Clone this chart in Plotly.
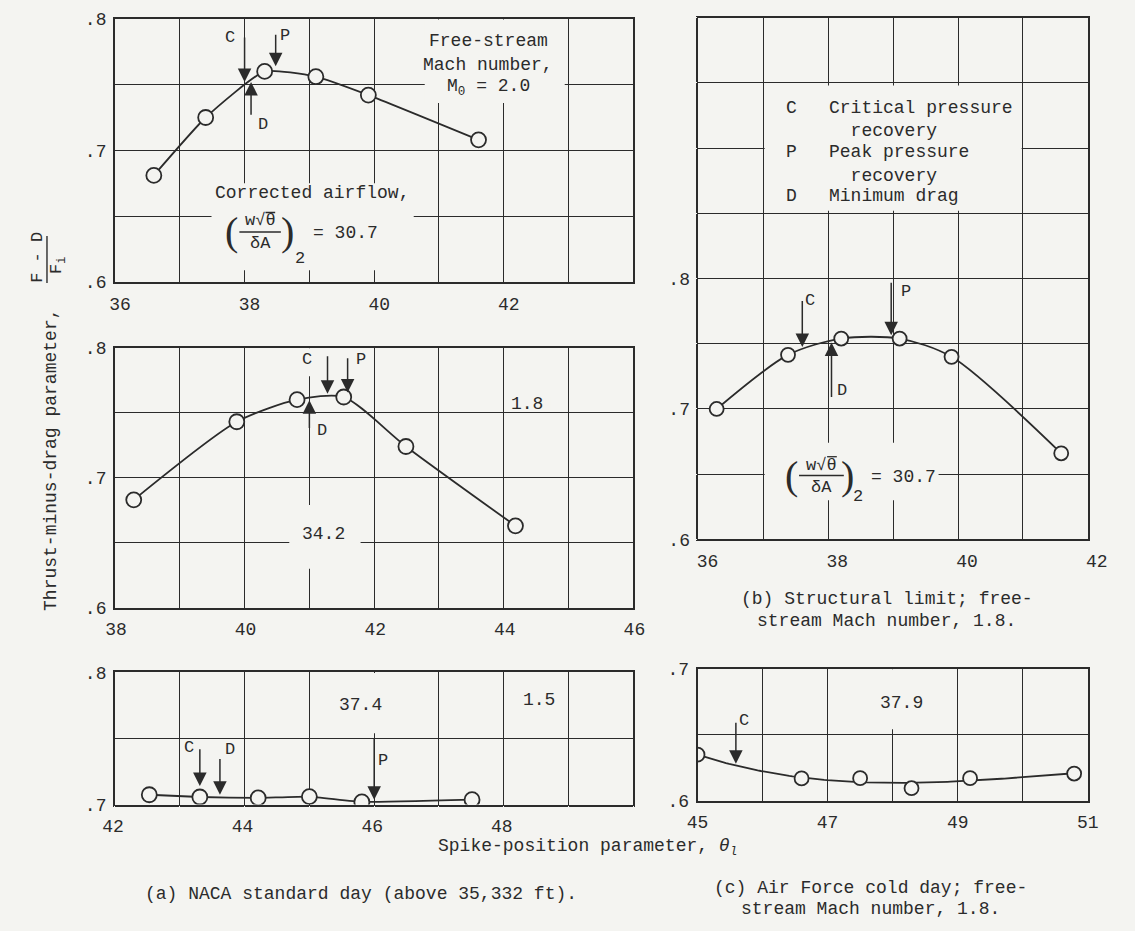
import numpy as np
import plotly.graph_objects as go

# ---------------- data ----------------
a1_x = [36.60, 37.40, 38.31, 39.10, 39.91, 41.61]
a1_y = [0.681, 0.725, 0.760, 0.756, 0.742, 0.708]
a2_x = [38.29, 39.88, 40.81, 41.53, 42.49, 44.18]
a2_y = [0.683, 0.743, 0.760, 0.762, 0.724, 0.663]
a3_x = [42.53, 43.31, 44.21, 45.00, 45.81, 47.51]
a3_y = [0.7074, 0.7057, 0.7050, 0.7060, 0.7020, 0.7037]
b_x = [36.28, 37.38, 38.20, 39.10, 39.90, 41.59]
b_y = [0.700, 0.7415, 0.754, 0.754, 0.740, 0.666]
c_x = [45.00, 46.60, 47.50, 48.29, 49.19, 50.79]
c_y = [0.6348, 0.6168, 0.6170, 0.6094, 0.6170, 0.6205]

# C / P / D markers: (label, x, y_tail, y_head, label_x, label_y)
a1_marks = [("C", 38.00, 0.787, 0.752, 37.77, 0.786),
            ("P", 38.48, 0.789, 0.764, 38.62, 0.787),
            ("D", 38.10, 0.726, 0.752, 38.28, 0.720)]
a2_marks = [("C", 41.28, 0.7945, 0.7645, 40.96, 0.791),
            ("P", 41.59, 0.793, 0.7655, 41.80, 0.791),
            ("D", 41.00, 0.737, 0.7595, 41.20, 0.736)]
a3_marks = [("C", 43.31, 0.743, 0.714, 43.14, 0.743),
            ("D", 43.62, 0.7356, 0.7074, 43.78, 0.742),
            ("P", 46.00, 0.751, 0.7037, 46.14, 0.733)]
b_marks = [("C", 37.60, 0.784, 0.7475, 37.72, 0.783),
           ("P", 38.97, 0.798, 0.7565, 39.20, 0.790),
           ("D", 38.05, 0.708, 0.751, 38.21, 0.714)]
c_marks = [("C", 45.59, 0.660, 0.628, 45.72, 0.6607)]

W, H = 1135, 931
BG = "#f4f4f1"
INK = "#2b2b2b"
FONT = "Courier New, Liberation Mono, monospace"
FS = 18


def px(x):
    return x / W


def py(y):
    return 1 - y / H


panels = [
    dict(x=a1_x, y=a1_y, xr=[36, 44], yr=[0.6, 0.8], box=[105, 639, 10, 279],
         xlab={36: "36", 38: "38", 40: "40", 42: "42"}, ylab={0.6: ".6", 0.7: ".7", 0.8: ".8"},
         marks=a1_marks, msize=15, fair=None, smooth=0.5, shift=5),
    dict(x=a2_x, y=a2_y, xr=[38, 46], yr=[0.6, 0.8], box=[105, 639, 346, 612],
         xlab={38: "38", 40: "40", 42: "42", 44: "44", 46: "46"}, ylab={0.6: ".6", 0.7: ".7", 0.8: ".8"},
         marks=a2_marks, msize=15, fair=None, smooth=0.7, shift=1),
    dict(x=a3_x, y=a3_y, xr=[42, 50], yr=[0.7, 0.8], box=[105, 639, 678, 813],
         xlab={42: "42", 44: "44", 46: "46", 48: "48"}, ylab={0.7: ".7", 0.8: ".8"},
         marks=a3_marks, msize=15, fair=None, smooth=0.3, shift=-2),
    dict(x=b_x, y=b_y, xr=[36, 42], yr=[0.6, 1.0], box=[706, 1107, 9, 542],
         xlab={36: "36", 38: "38", 40: "40", 42: "42"}, ylab={0.6: ".6", 0.7: ".7", 0.8: ".8"},
         marks=b_marks, msize=14, fair=None, smooth=0.8, shift=9),
    dict(x=c_x, y=c_y, xr=[45, 51], yr=[0.6, 0.7], box=[705, 1107, 674, 809],
         xlab={45: "45", 47: "47", 49: "49", 51: "51"}, ylab={0.6: ".6", 0.7: ".7"},
         marks=c_marks, msize=14, fair=3, smooth=0.8, shift=0),
]

fig = go.Figure()
layout = dict(
    width=W, height=H, margin=dict(l=0, r=0, t=0, b=0, pad=0),
    paper_bgcolor=BG, plot_bgcolor=BG, showlegend=False,
    font=dict(family=FONT, size=FS, color=INK),
)
annotations = []
shapes = []

for i, p in enumerate(panels):
    n = "" if i == 0 else str(i + 1)
    xa, ya = "x" + n, "y" + n
    x0, x1, yt, yb = p["box"]
    xt = list(range(p["xr"][0], p["xr"][1] + 1))
    ny = int(round((p["yr"][1] - p["yr"][0]) / 0.05))
    yt_vals = [round(p["yr"][0] + 0.05 * k, 2) for k in range(ny + 1)]
    layout["xaxis" + n] = dict(
        domain=[px(x0), px(x1)], range=p["xr"], anchor=ya,
        tickvals=xt, ticktext=[p["xlab"].get(v, "") for v in xt],
        showgrid=True, gridcolor=INK, gridwidth=1.4,
        showline=True, mirror=True, linecolor=INK, linewidth=1.8,
        zeroline=False, ticks="outside", ticklen=4, tickcolor=BG,
        ticklabelshift=p["shift"],
        tickfont=dict(family=FONT, size=FS, color=INK),
    )
    layout["yaxis" + n] = dict(
        domain=[py(yb), py(yt)], range=p["yr"], anchor=xa,
        tickvals=yt_vals, ticktext=[p["ylab"].get(v, "") for v in yt_vals],
        showgrid=True, gridcolor=INK, gridwidth=1.4,
        showline=True, mirror=True, linecolor=INK, linewidth=1.8,
        zeroline=False, ticks="outside", ticklen=3, tickcolor=BG,
        tickfont=dict(family=FONT, size=FS, color=INK),
    )
    if p["fair"]:
        # faired (least-squares) curve through the test points
        coef = np.polyfit(p["x"], p["y"], p["fair"])
        fx = np.linspace(min(p["x"]), max(p["x"]), 120)
        fig.add_trace(go.Scatter(
            x=fx, y=np.polyval(coef, fx), xaxis=xa, yaxis=ya, mode="lines",
            line=dict(color=INK, width=1.8), hoverinfo="skip"))
        mode = "markers"
    else:
        mode = "lines+markers"
    fig.add_trace(go.Scatter(
        x=p["x"], y=p["y"], xaxis=xa, yaxis=ya, mode=mode,
        line=dict(color=INK, width=1.8, shape="spline", smoothing=p["smooth"]),
        marker=dict(symbol="circle", size=p["msize"], color=BG,
                    line=dict(color=INK, width=1.8)),
        hoverinfo="skip",
    ))
    for lab, mx, ytail, yhead, lx, ly in p["marks"]:
        annotations.append(dict(
            x=mx, y=yhead, ax=mx, ay=ytail, xref=xa, yref=ya, axref=xa, ayref=ya,
            text="", showarrow=True, arrowhead=2, arrowsize=1.8, arrowwidth=1.5,
            arrowcolor=INK, standoff=0, startstandoff=0,
        ))
        annotations.append(dict(
            x=lx, y=ly, xref=xa, yref=ya, text=lab, showarrow=False,
            font=dict(family=FONT, size=17, color=INK),
            xanchor="center", yanchor="middle",
        ))


def mask(xa, ya, xr, yr):
    shapes.append(dict(type="rect", xref=xa, yref=ya, x0=xr[0], x1=xr[1],
                       y0=yr[0], y1=yr[1], fillcolor=BG, line=dict(width=0),
                       layer="between"))


def txt(xa, ya, x, y, s, size=FS, xanchor="center", family=FONT, angle=0):
    annotations.append(dict(x=x, y=y, xref=xa, yref=ya, text=s, showarrow=False,
                            font=dict(family=family, size=size, color=INK),
                            xanchor=xanchor, yanchor="middle", textangle=angle))


def formula(xa, ya, xl, xnum, xr_, xsub, xeq, ynum, ybar, yden, ysub, yeq, barx, ppu_x, ppu_y):
    txt(xa, ya, xl, ybar, "(", size=40, family="Liberation Serif")
    txt(xa, ya, xr_, ybar, ")", size=40, family="Liberation Serif")
    txt(xa, ya, xnum, ynum, "w√θ", size=17)
    txt(xa, ya, xnum, yden, "δA", size=17)
    txt(xa, ya, xsub, ysub, "2", size=17)
    txt(xa, ya, xeq, yeq, "= 30.7")
    shapes.append(dict(type="line", xref=xa, yref=ya, x0=barx[0], x1=barx[1],
                       y0=ybar, y1=ybar, line=dict(color=INK, width=1.5)))
    # vinculum of the square-root sign over theta
    shapes.append(dict(type="line", xref=xa, yref=ya,
                       x0=xnum + 5.5 / ppu_x, x1=xnum + 15.5 / ppu_x,
                       y0=ynum + 8.5 / ppu_y, y1=ynum + 8.5 / ppu_y,
                       line=dict(color=INK, width=1.3)))


# ---- panel a1 texts ----
mask("x", "y", [40.78, 42.94], [0.736, 0.7995])
mask("x", "y", [37.49, 40.61], [0.609, 0.675])
txt("x", "y", 41.76, 0.783, "Free-stream")
txt("x", "y", 41.76, 0.765, "Mach number,")
txt("x", "y", 41.76, 0.748, "M<sub>0</sub> = 2.0")
txt("x", "y", 39.04, 0.668, "Corrected airflow,")
formula("x", "y", 37.80, 38.24, 38.66, 38.86, 39.55,
        0.6465, 0.638, 0.6295, 0.618, 0.637, [37.92, 38.56], 66.75, 1345)

# ---- panel a2 texts ----
mask("x2", "y2", [44.05, 44.72], [0.751, 0.762])
mask("x2", "y2", [40.69, 41.79], [0.630, 0.679])
mask("x2", "y2", [40.88, 41.08], [0.778, 0.7995])
txt("x2", "y2", 44.36, 0.7565, "1.8")
txt("x2", "y2", 41.22, 0.657, "34.2")

# ---- panel a3 texts ----
mask("x3", "y3", [45.48, 46.44], [0.754, 0.7995])
txt("x3", "y3", 45.79, 0.7757, "37.4")
txt("x3", "y3", 48.54, 0.779, "1.5")

# ---- panel b texts ----
mask("x4", "y4", [37.02, 40.98], [0.852, 0.948])
mask("x4", "y4", [37.02, 39.70], [0.630, 0.674])
leg_rows = [(0.9306, "C", "Critical pressure"), (0.9133, "", "&nbsp;&nbsp;recovery"),
            (0.8968, "P", "Peak pressure"), (0.8788, "", "&nbsp;&nbsp;recovery"),
            (0.8630, "D", "Minimum drag")]
for yy, k, s in leg_rows:
    if k:
        txt("x4", "y4", 37.44, yy, k)
    txt("x4", "y4", 37.98, yy, s, xanchor="left")
formula("x4", "y4", 37.44, 37.90, 38.30, 38.46, 39.16,
        0.657, 0.649, 0.640, 0.6327, 0.6477, [37.55, 38.24], 66.83, 1332.5)

# ---- panel c texts ----
mask("x5", "y5", [47.66, 48.56], [0.654, 0.6995])
txt("x5", "y5", 48.14, 0.674, "37.9")


# ---- axis titles & captions (paper coords) ----
def ptxt(x, y, s, angle=0, size=FS, xanchor="center"):
    annotations.append(dict(x=px(x), y=py(y), xref="paper", yref="paper", text=s,
                            showarrow=False, textangle=angle, xanchor=xanchor,
                            yanchor="middle", font=dict(family=FONT, size=size, color=INK)))


ptxt(39, 461, "Thrust-minus-drag parameter,", angle=-90)
ptxt(25, 254, "F - D", angle=-90, size=17)
ptxt(47, 262, "F<sub>i</sub>", angle=-90, size=17)
shapes.append(dict(type="line", xref="paper", yref="paper", x0=px(35), x1=px(35),
                   y0=py(232), y1=py(280), line=dict(color=INK, width=1.4)))
ptxt(592, 857, "Spike-position parameter, <i>θ</i><sub><i>l</i></sub>")
ptxt(358, 904, "(a) NACA standard day (above 35,332 ft).")
ptxt(900, 603, "(b) Structural limit; free-")
ptxt(900, 625, "stream Mach number, 1.8.")
ptxt(883, 898, "(c) Air Force cold day; free-")
ptxt(883, 920, "stream Mach number, 1.8.")

layout["annotations"] = annotations
layout["shapes"] = shapes
fig.update_layout(**layout)
fig.write_html(
    "out.html",
    post_script="document.body.style.margin='0px';document.body.style.padding='0px';"
                "document.documentElement.style.margin='0px';",
)
